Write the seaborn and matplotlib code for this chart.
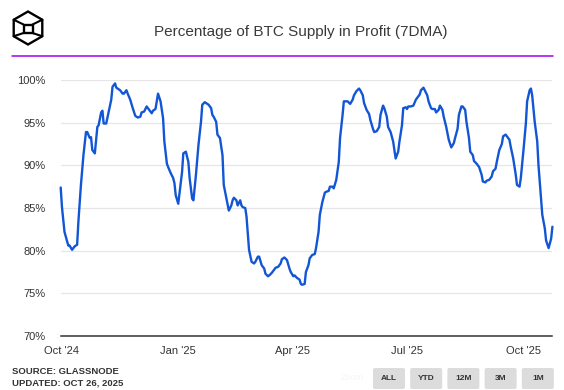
import matplotlib
matplotlib.use("Agg")
import numpy as np
import pandas as pd
import matplotlib.pyplot as plt
import matplotlib.dates as mdates
from matplotlib.lines import Line2D
from matplotlib.patches import FancyBboxPatch, Polygon
import seaborn as sns

# days after 2024-10-01 and % of BTC supply in profit (7DMA)
start = pd.Timestamp("2024-10-01")
days = [-1, 0, 2, 5, 6, 8, 10, 12, 13, 15, 17, 19, 20, 22, 23, 24, 26, 27, 28, 29,
        31, 32, 33, 35, 37, 39, 40, 42, 43, 46, 48, 49, 51, 52, 54, 56, 58, 60, 62, 63,
        65, 67, 69, 71, 72, 74, 76, 78, 80, 81, 83, 84, 86, 88, 89, 90, 92, 93, 95, 96,
        98, 100, 101, 103, 104, 106, 108, 110, 111, 113, 116, 118, 119, 120, 122, 123, 125, 127, 128, 130,
        132, 134, 135, 136, 138, 139, 141, 142, 143, 145, 146, 147, 148, 150, 152, 153, 155, 156, 158, 160,
        161, 163, 164, 166, 167, 169, 171, 173, 174, 176, 178, 180, 181, 183, 184, 186, 188, 189, 190, 192,
        193, 195, 196, 198, 200, 201, 203, 204, 206, 208, 209, 211, 212, 214, 215, 217, 219, 220, 222, 223,
        225, 226, 228, 230, 231, 233, 235, 236, 238, 239, 241, 243, 244, 246, 247, 249, 251, 252, 254, 255,
        257, 258, 260, 262, 264, 266, 267, 269, 270, 272, 273, 274, 276, 278, 280, 281, 283, 284, 286, 287,
        289, 290, 292, 293, 295, 296, 298, 299, 301, 302, 304, 306, 308, 310, 311, 313, 314, 316, 317, 319,
        320, 322, 323, 325, 326, 328, 330, 332, 333, 335, 336, 338, 340, 341, 343, 344, 346, 348, 349, 351,
        352, 354, 355, 357, 359, 360, 362, 363, 365, 367, 368, 370, 371, 372, 374, 376, 377, 379, 380, 382,
        383, 385, 387, 388]
pct = [87.4, 85.1, 82.2, 80.6, 80.6, 80.1, 80.5, 80.7, 83.4, 87.7, 91.2, 93.9, 93.9, 93.2, 93.3, 91.8, 91.4, 93.0, 94.5, 94.7,
       96.2, 96.4, 94.9, 94.9, 96.3, 97.7, 99.2, 99.6, 99.1, 98.8, 98.4, 98.4, 98.8, 98.4, 97.7, 96.7, 95.8, 95.6, 95.7, 96.2,
       96.3, 96.9, 96.5, 96.1, 96.4, 96.6, 98.4, 97.5, 95.5, 92.8, 90.2, 89.8, 89.1, 88.5, 87.9, 86.5, 85.5, 86.7, 89.2, 91.4,
       91.6, 90.4, 88.5, 86.1, 85.9, 88.9, 92.4, 95.1, 97.1, 97.4, 97.1, 96.7, 95.9, 95.7, 95.1, 93.6, 93.2, 91.2, 87.7, 86.2,
       84.7, 85.3, 85.9, 86.2, 85.9, 85.3, 85.9, 85.3, 85.1, 85.0, 84.0, 82.0, 80.1, 78.7, 78.5, 78.7, 79.3, 79.3, 78.3, 77.9,
       77.3, 77.0, 77.1, 77.4, 77.6, 78.0, 78.1, 78.5, 79.0, 79.2, 78.9, 77.9, 77.5, 77.0, 77.1, 76.8, 76.6, 76.1, 76.0, 76.1,
       77.5, 78.3, 79.1, 79.5, 79.6, 80.3, 82.2, 84.2, 85.7, 86.8, 86.9, 87.0, 87.5, 87.5, 87.3, 88.3, 90.4, 93.2, 95.9, 97.5,
       97.5, 97.5, 97.2, 97.7, 98.2, 98.7, 99.0, 98.8, 98.2, 97.3, 96.5, 96.0, 95.3, 94.3, 93.9, 94.0, 94.5, 95.9, 97.0, 96.7,
       95.7, 94.5, 93.9, 92.8, 90.8, 91.6, 92.8, 94.7, 96.7, 96.8, 96.6, 96.9, 96.9, 97.0, 97.7, 97.9, 98.3, 98.8, 99.1, 98.8,
       98.2, 97.5, 96.7, 96.6, 96.6, 96.2, 96.5, 97.0, 96.5, 95.7, 94.5, 93.0, 92.1, 92.6, 93.2, 94.3, 95.9, 96.9, 96.9, 96.5,
       95.1, 93.2, 91.6, 91.2, 90.5, 90.2, 89.8, 88.9, 88.1, 88.0, 88.2, 88.3, 88.7, 89.3, 89.6, 90.4, 91.8, 92.5, 93.4, 93.6,
       93.4, 93.0, 92.2, 90.8, 88.9, 87.7, 87.5, 88.5, 91.6, 94.9, 97.5, 98.8, 99.0, 98.2, 95.1, 92.8, 90.0, 86.1, 84.2, 82.6,
       81.2, 80.3, 81.4, 82.8]

y_ticks = [70, 75, 80, 85, 90, 95, 100]
x_ticks = ["2024-10-01", "2025-01-01", "2025-04-01", "2025-07-01", "2025-10-01"]
buttons = ["ALL", "YTD", "12M", "3M", "1M"]

df = pd.DataFrame({"date": start + pd.to_timedelta(days, unit="D"), "pct": pct})

sns.set_style("white")
plt.rcParams["font.family"] = ["Liberation Sans", "DejaVu Sans"]

W, H = 564, 390
fig = plt.figure(figsize=(W / 100, H / 100), dpi=100)


def fx(x, y):
    return x / W, 1 - y / H


# plot area in pixels: left 60.7, right 552.4, top (100%) 80, bottom (70%) 336
ax = fig.add_axes([60.7 / W, (H - 336) / H, (552.4 - 60.7) / W, (336 - 80) / H])
sns.lineplot(data=df, x="date", y="pct", ax=ax, color="#1256d6", linewidth=1.7, clip_on=False)

ax.set_xlim(df["date"].min(), df["date"].max())
ax.set_ylim(70, 100)
ax.set_yticks(y_ticks)
ax.set_yticklabels([f"{v}%" for v in y_ticks])
ax.set_xticks(pd.to_datetime(x_ticks))
ax.xaxis.set_major_formatter(mdates.DateFormatter("%b '%y"))
ax.tick_params(axis="y", length=0, pad=11, labelsize=8, labelcolor="#333333")
ax.tick_params(axis="x", length=0, pad=7.5, labelsize=8, labelcolor="#333333")
ax.set_xlabel("")
ax.set_ylabel("")
ax.yaxis.grid(True, color="#e6e6e6", linewidth=0.9)
ax.set_axisbelow(True)
for s in ["top", "right", "left"]:
    ax.spines[s].set_visible(False)
ax.spines["bottom"].set_color("#333333")
ax.spines["bottom"].set_linewidth(1.1)

# header
fig.text(*fx(301, 32), "Percentage of BTC Supply in Profit (7DMA)", ha="center", va="center",
         fontsize=11, color="#3a3a3a")
fig.add_artist(Line2D([12 / W, 553 / W], [1 - 56 / H, 1 - 56 / H], transform=fig.transFigure,
                      color="#a100f2", linewidth=1.1))

# logo
cx, cy, r = 28, 28, 16.5
ang = np.deg2rad([90, 30, -30, -90, -150, 150])
hx = cx + r * np.cos(ang)
hy = cy - r * np.sin(ang)
fig.add_artist(Polygon([fx(a, b) for a, b in zip(hx, hy)], closed=True, fill=False,
                       edgecolor="black", linewidth=1.7, transform=fig.transFigure))
sq = [(cx - 4.5, cy - 3.5), (cx + 4.5, cy - 3.5), (cx + 4.5, cy + 5), (cx - 4.5, cy + 5)]
fig.add_artist(Polygon([fx(a, b) for a, b in sq], closed=True, fill=False,
                       edgecolor="black", linewidth=1.7, transform=fig.transFigure))
for (a, b), k in zip(sq, [5, 1, 2, 4]):
    p0, p1 = fx(a, b), fx(hx[k], hy[k])
    fig.add_artist(Line2D([p0[0], p1[0]], [p0[1], p1[1]], transform=fig.transFigure,
                          color="black", linewidth=1.5))

# footer
fig.text(*fx(12, 371), "SOURCE: GLASSNODE", ha="left", va="center", fontsize=6.8,
         fontweight="bold", color="#333333")
fig.text(*fx(12, 383), "UPDATED: OCT 26, 2025", ha="left", va="center", fontsize=6.8,
         fontweight="bold", color="#333333")
fig.text(*fx(352, 378), "Zoom", ha="center", va="center", fontsize=6.5, color="#f6f6f6")
for i, lab in enumerate(buttons):
    x0 = 373 + i * 37.2
    fig.add_artist(FancyBboxPatch(fx(x0, 389), 32 / W, 21 / H, boxstyle="round,pad=0,rounding_size=0.004",
                                  transform=fig.transFigure, facecolor="#dcdcdc", edgecolor="none"))
    fig.text(*fx(x0 + 16, 378.5), lab, ha="center", va="center", fontsize=6,
             fontweight="bold", color="#333333")

fig.savefig("out.png", dpi=100)
